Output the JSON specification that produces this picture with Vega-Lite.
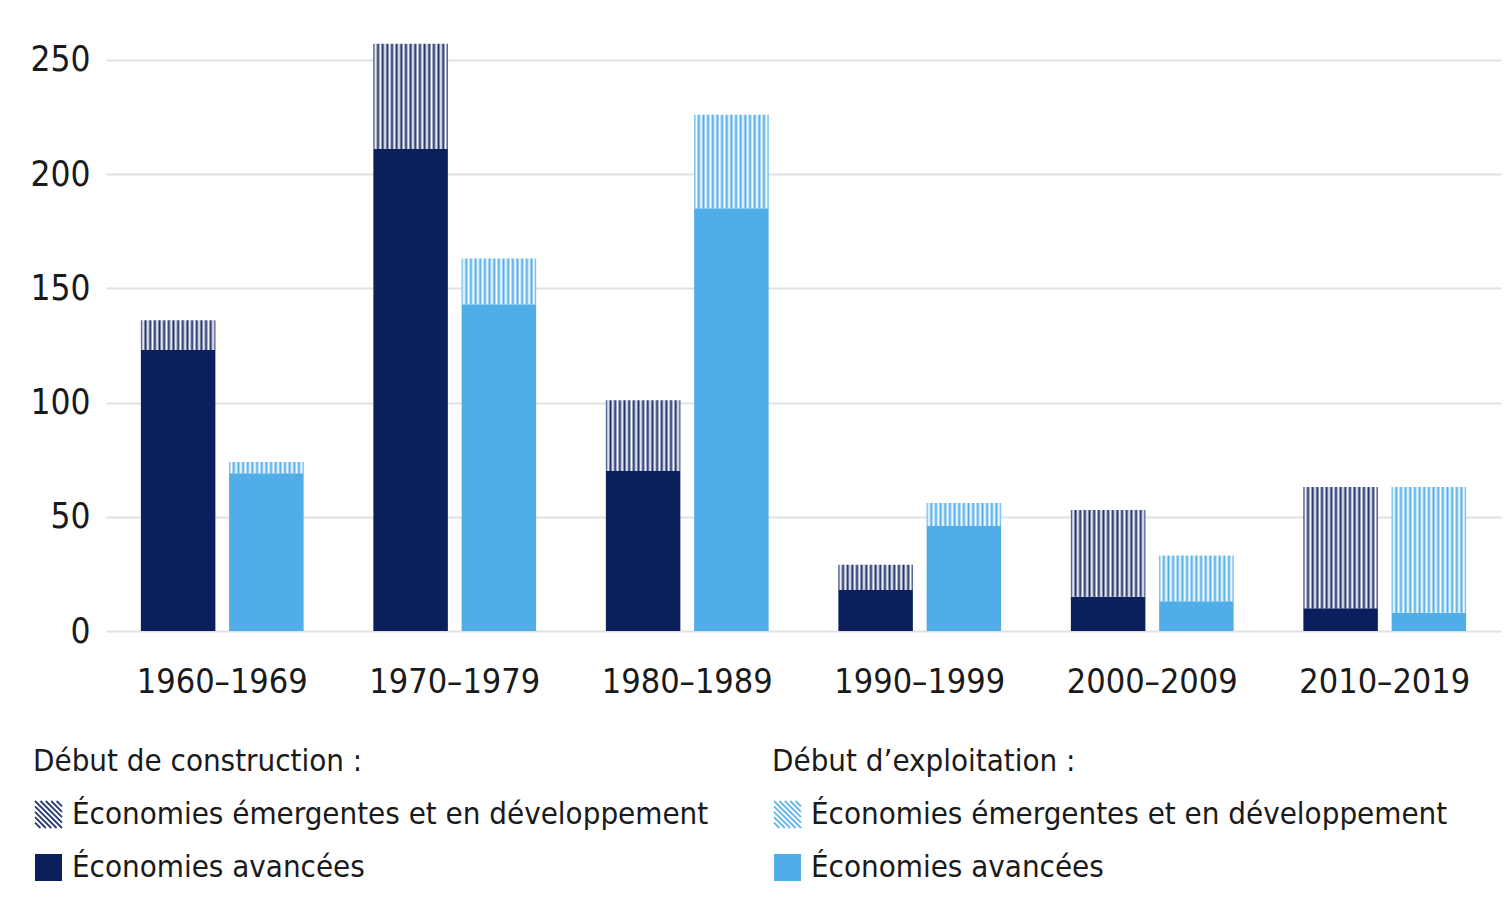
{
  "$schema": "https://vega.github.io/schema/vega-lite/v6.json",
  "width": 1395,
  "height": 594,
  "autosize": {"type": "none"},
  "padding": {"left": 106, "top": 37, "right": 7, "bottom": 293},
  "background": "white",
  "data": {
    "values": [
      {"decennie": "1960–1969", "debut": "construction", "economie": "Économies avancées", "valeur": 123},
      {"decennie": "1960–1969", "debut": "construction", "economie": "Économies émergentes et en développement", "valeur": 13},
      {"decennie": "1960–1969", "debut": "exploitation", "economie": "Économies avancées", "valeur": 69},
      {"decennie": "1960–1969", "debut": "exploitation", "economie": "Économies émergentes et en développement", "valeur": 5},
      {"decennie": "1970–1979", "debut": "construction", "economie": "Économies avancées", "valeur": 211},
      {"decennie": "1970–1979", "debut": "construction", "economie": "Économies émergentes et en développement", "valeur": 46},
      {"decennie": "1970–1979", "debut": "exploitation", "economie": "Économies avancées", "valeur": 143},
      {"decennie": "1970–1979", "debut": "exploitation", "economie": "Économies émergentes et en développement", "valeur": 20},
      {"decennie": "1980–1989", "debut": "construction", "economie": "Économies avancées", "valeur": 70},
      {"decennie": "1980–1989", "debut": "construction", "economie": "Économies émergentes et en développement", "valeur": 31},
      {"decennie": "1980–1989", "debut": "exploitation", "economie": "Économies avancées", "valeur": 185},
      {"decennie": "1980–1989", "debut": "exploitation", "economie": "Économies émergentes et en développement", "valeur": 41},
      {"decennie": "1990–1999", "debut": "construction", "economie": "Économies avancées", "valeur": 18},
      {"decennie": "1990–1999", "debut": "construction", "economie": "Économies émergentes et en développement", "valeur": 11},
      {"decennie": "1990–1999", "debut": "exploitation", "economie": "Économies avancées", "valeur": 46},
      {"decennie": "1990–1999", "debut": "exploitation", "economie": "Économies émergentes et en développement", "valeur": 10},
      {"decennie": "2000–2009", "debut": "construction", "economie": "Économies avancées", "valeur": 15},
      {"decennie": "2000–2009", "debut": "construction", "economie": "Économies émergentes et en développement", "valeur": 38},
      {"decennie": "2000–2009", "debut": "exploitation", "economie": "Économies avancées", "valeur": 13},
      {"decennie": "2000–2009", "debut": "exploitation", "economie": "Économies émergentes et en développement", "valeur": 20},
      {"decennie": "2010–2019", "debut": "construction", "economie": "Économies avancées", "valeur": 10},
      {"decennie": "2010–2019", "debut": "construction", "economie": "Économies émergentes et en développement", "valeur": 53},
      {"decennie": "2010–2019", "debut": "exploitation", "economie": "Économies avancées", "valeur": 8},
      {"decennie": "2010–2019", "debut": "exploitation", "economie": "Économies émergentes et en développement", "valeur": 55}
    ]
  },
  "encoding": {
    "x": {
      "field": "decennie", "type": "nominal", "sort": null,
      "scale": {"paddingInner": 0.3, "paddingOuter": 0.15},
      "axis": {"title": null, "labelAngle": 0, "ticks": false, "domain": false, "labelPadding": 34, "labelFontSize": 34, "labelLimit": 400}
    },
    "xOffset": {
      "field": "debut", "type": "nominal",
      "scale": {"domain": ["construction", "exploitation"], "paddingInner": 0.156, "paddingOuter": 0}
    },
    "y": {
      "field": "valeur", "type": "quantitative", "stack": "zero",
      "scale": {"domain": [0, 260], "nice": false},
      "axis": {"title": null, "values": [0, 50, 100, 150, 200, 250], "ticks": false, "domain": false, "labelPadding": 16, "labelFontSize": 35, "gridColor": "#e1e1e1", "gridWidth": 2}
    },
    "order": {"field": "economie", "sort": "ascending"}
  },
  "layer": [
    {
      "transform": [{"filter": "datum.debut === 'construction'"}],
      "mark": {"type": "bar"},
      "encoding": {
        "color": {
          "field": "economie", "type": "nominal",
          "scale": {"domain": ["Économies émergentes et en développement", "Économies avancées"], "range": ["#ffffff", "#0a1f5c"]},
          "condition": {
            "test": "datum.economie === 'Économies émergentes et en développement'",
            "value": {
              "gradient": "linear", "x1": 0, "y1": 0, "x2": 1, "y2": 0,
              "stops": [
                {"offset": 0, "color": "#1c2f6a"}, {"offset": 0.03125, "color": "#ffffff"},
                {"offset": 0.0625, "color": "#1c2f6a"}, {"offset": 0.09375, "color": "#ffffff"},
                {"offset": 0.125, "color": "#1c2f6a"}, {"offset": 0.15625, "color": "#ffffff"},
                {"offset": 0.1875, "color": "#1c2f6a"}, {"offset": 0.21875, "color": "#ffffff"},
                {"offset": 0.25, "color": "#1c2f6a"}, {"offset": 0.28125, "color": "#ffffff"},
                {"offset": 0.3125, "color": "#1c2f6a"}, {"offset": 0.34375, "color": "#ffffff"},
                {"offset": 0.375, "color": "#1c2f6a"}, {"offset": 0.40625, "color": "#ffffff"},
                {"offset": 0.4375, "color": "#1c2f6a"}, {"offset": 0.46875, "color": "#ffffff"},
                {"offset": 0.5, "color": "#1c2f6a"}, {"offset": 0.53125, "color": "#ffffff"},
                {"offset": 0.5625, "color": "#1c2f6a"}, {"offset": 0.59375, "color": "#ffffff"},
                {"offset": 0.625, "color": "#1c2f6a"}, {"offset": 0.65625, "color": "#ffffff"},
                {"offset": 0.6875, "color": "#1c2f6a"}, {"offset": 0.71875, "color": "#ffffff"},
                {"offset": 0.75, "color": "#1c2f6a"}, {"offset": 0.78125, "color": "#ffffff"},
                {"offset": 0.8125, "color": "#1c2f6a"}, {"offset": 0.84375, "color": "#ffffff"},
                {"offset": 0.875, "color": "#1c2f6a"}, {"offset": 0.90625, "color": "#ffffff"},
                {"offset": 0.9375, "color": "#1c2f6a"}, {"offset": 0.96875, "color": "#ffffff"},
                {"offset": 1, "color": "#1c2f6a"}
              ]
            }
          },
          "legend": {
            "title": "Début de construction :",
            "orient": "none", "legendX": -73, "legendY": 710,
            "encode": {
              "symbols": {
                "update": {
                  "shape": [
                    {"test": "datum.value === 'Économies avancées'", "value": "square"},
                    {"value": "M-1,0.6L-0.6,1M-1,0.2L-0.2,1M-1,-0.2L0.2,1M-1,-0.6L0.6,1M-1,-1L1,1M-0.6,-1L1,0.6M-0.2,-1L1,0.2M0.2,-1L1,-0.2M0.6,-1L1,-0.6"}
                  ],
                  "stroke": [
                    {"test": "datum.value === 'Économies avancées'", "value": "transparent"},
                    {"value": "#2a3b74"}
                  ],
                  "strokeWidth": {"value": 1.8}
                }
              }
            }
          }
        }
      }
    },
    {
      "transform": [{"filter": "datum.debut === 'exploitation'"}],
      "mark": {"type": "bar"},
      "encoding": {
        "color": {
          "field": "economie", "type": "nominal",
          "scale": {"domain": ["Économies émergentes et en développement", "Économies avancées"], "range": ["#ffffff", "#50ade8"]},
          "condition": {
            "test": "datum.economie === 'Économies émergentes et en développement'",
            "value": {
              "gradient": "linear", "x1": 0, "y1": 0, "x2": 1, "y2": 0,
              "stops": [
                {"offset": 0, "color": "#50ade8"}, {"offset": 0.03125, "color": "#ffffff"},
                {"offset": 0.0625, "color": "#50ade8"}, {"offset": 0.09375, "color": "#ffffff"},
                {"offset": 0.125, "color": "#50ade8"}, {"offset": 0.15625, "color": "#ffffff"},
                {"offset": 0.1875, "color": "#50ade8"}, {"offset": 0.21875, "color": "#ffffff"},
                {"offset": 0.25, "color": "#50ade8"}, {"offset": 0.28125, "color": "#ffffff"},
                {"offset": 0.3125, "color": "#50ade8"}, {"offset": 0.34375, "color": "#ffffff"},
                {"offset": 0.375, "color": "#50ade8"}, {"offset": 0.40625, "color": "#ffffff"},
                {"offset": 0.4375, "color": "#50ade8"}, {"offset": 0.46875, "color": "#ffffff"},
                {"offset": 0.5, "color": "#50ade8"}, {"offset": 0.53125, "color": "#ffffff"},
                {"offset": 0.5625, "color": "#50ade8"}, {"offset": 0.59375, "color": "#ffffff"},
                {"offset": 0.625, "color": "#50ade8"}, {"offset": 0.65625, "color": "#ffffff"},
                {"offset": 0.6875, "color": "#50ade8"}, {"offset": 0.71875, "color": "#ffffff"},
                {"offset": 0.75, "color": "#50ade8"}, {"offset": 0.78125, "color": "#ffffff"},
                {"offset": 0.8125, "color": "#50ade8"}, {"offset": 0.84375, "color": "#ffffff"},
                {"offset": 0.875, "color": "#50ade8"}, {"offset": 0.90625, "color": "#ffffff"},
                {"offset": 0.9375, "color": "#50ade8"}, {"offset": 0.96875, "color": "#ffffff"},
                {"offset": 1, "color": "#50ade8"}
              ]
            }
          },
          "legend": {
            "title": "Début d’exploitation :",
            "orient": "none", "legendX": 666, "legendY": 710,
            "encode": {
              "symbols": {
                "update": {
                  "shape": [
                    {"test": "datum.value === 'Économies avancées'", "value": "square"},
                    {"value": "M-1,0.6L-0.6,1M-1,0.2L-0.2,1M-1,-0.2L0.2,1M-1,-0.6L0.6,1M-1,-1L1,1M-0.6,-1L1,0.6M-0.2,-1L1,0.2M0.2,-1L1,-0.2M0.6,-1L1,-0.6"}
                  ],
                  "stroke": [
                    {"test": "datum.value === 'Économies avancées'", "value": "transparent"},
                    {"value": "#62b6ea"}
                  ],
                  "strokeWidth": {"value": 1.8}
                }
              }
            }
          }
        }
      }
    }
  ],
  "resolve": {"scale": {"color": "independent"}},
  "config": {
    "view": {"stroke": null},
    "font": "DejaVu Sans Condensed, DejaVu Sans, sans-serif",
    "axis": {"labelColor": "#1a1a1a"},
    "legend": {
      "titleFontSize": 31, "titleFontWeight": "normal", "titleColor": "#1a1a1a", "titlePadding": 21, "titleLimit": 900,
      "labelFontSize": 31, "labelColor": "#1a1a1a", "labelLimit": 900, "labelOffset": 8,
      "symbolType": "square", "symbolSize": 729, "rowPadding": 18,
      "direction": "vertical"
    }
  }
}
